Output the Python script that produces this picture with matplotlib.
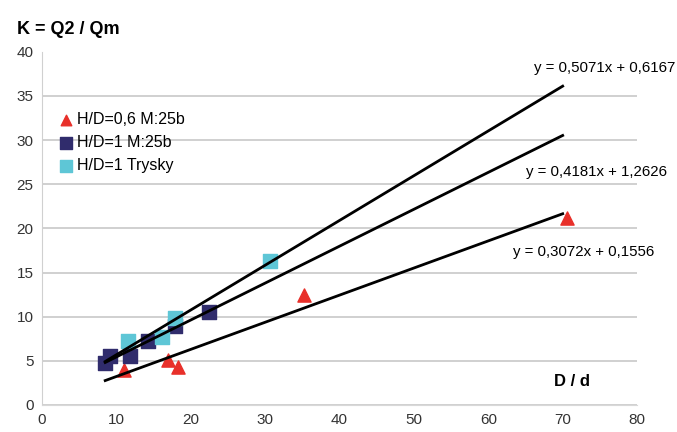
import matplotlib
matplotlib.use("Agg")
import matplotlib.pyplot as plt
import numpy as np

# Data
red_x = [11.0, 16.9, 18.3, 35.2, 70.6]
red_y = [4.0, 5.1, 4.3, 12.5, 21.2]
navy_x = [8.5, 9.2, 11.8, 14.2, 17.9, 22.4]
navy_y = [4.8, 5.6, 5.5, 7.3, 8.9, 10.5]
cyan_x = [11.6, 16.1, 17.9, 30.6]
cyan_y = [7.3, 7.7, 9.8, 16.3]

slopes = [0.5071, 0.4181, 0.3072]
intercepts = [0.6167, 1.2626, 0.1556]
fit_x_range = [8.5, 70]
eq_labels = ["y = 0,5071x + 0,6167", "y = 0,4181x + 1,2626", "y = 0,3072x + 0,1556"]

x_ticks = [0, 10, 20, 30, 40, 50, 60, 70, 80]
y_ticks = [0, 5, 10, 15, 20, 25, 30, 35, 40]

plt.rcParams['font.family'] = ['Liberation Sans', 'DejaVu Sans']

fig = plt.figure(figsize=(6.77, 4.32), dpi=100)
ax = fig.add_axes([0.062, 0.0625, 0.879, 0.8175])

ax.set_xlim(0, 80)
ax.set_ylim(0, 40)
ax.set_xticks(x_ticks)
ax.set_yticks(y_ticks)
ax.tick_params(length=0, labelsize=11, colors='#333333', pad=6)
for s in ['top', 'right']:
    ax.spines[s].set_visible(False)
ax.spines['left'].set_color('#d0d0d0')
ax.spines['bottom'].set_color('#d8d8d8')
ax.yaxis.grid(True, color='#c8c8c8', linewidth=1.2)
ax.get_ygridlines()[-1].set_visible(False)
ax.set_axisbelow(True)

ax.scatter(red_x, red_y, marker='^', s=90, color='#e8302a', label='H/D=0,6 M:25b', zorder=3)
ax.scatter(navy_x, navy_y, marker='s', s=110, color='#302c6c', label='H/D=1 M:25b', zorder=3)
ax.scatter(cyan_x, cyan_y, marker='s', s=110, color='#5ec6d6', label='H/D=1 Trysky', zorder=3)

xs = np.array(fit_x_range)
for m, b in zip(slopes, intercepts):
    ax.plot(xs, m * xs + b, color='black', linewidth=2, zorder=4)

fig.text(0.997, 1 - 68 / 432, eq_labels[0], ha='right', va='center', fontsize=10.8)
fig.text(0.985, 1 - 172 / 432, eq_labels[1], ha='right', va='center', fontsize=10.8)
fig.text(0.966, 1 - 252 / 432, eq_labels[2], ha='right', va='center', fontsize=10.8)

fig.text(0.025, 1 - 30 / 432, "K = Q2 / Qm", ha='left', va='center', fontsize=13, fontweight='bold')
ax.text(73.7, 2.7, "D / d", ha='right', va='center', fontsize=12, fontweight='bold')

leg = ax.legend(loc='upper left', bbox_to_anchor=(0.0, 0.87), fontsize=11.5, frameon=False,
                handletextpad=0.1, borderpad=0.4, labelspacing=0.5, handlelength=1.2,
                markerscale=0.8)

fig.savefig("out.png", dpi=100)
